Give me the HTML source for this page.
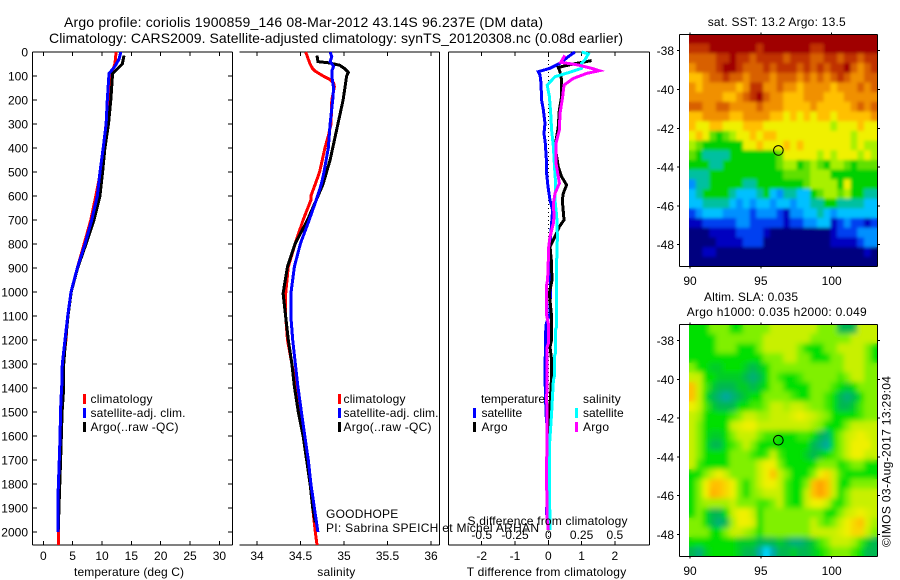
<!DOCTYPE html>
<html lang="en">
<head>
<meta charset="utf-8">
<title>Argo profile</title>
<style>
html,body{margin:0;padding:0;background:#fff}
svg{display:block}
text{font-family:"Liberation Sans",Arial,sans-serif;fill:#000;font-size:12px}
.title{font-size:14px}
.ax{stroke:#000;stroke-width:1;fill:none;shape-rendering:crispEdges}
.series{fill:none;stroke-width:3;stroke-linejoin:miter;stroke-linecap:butt;shape-rendering:crispEdges}
</style>
</head>
<body>
<svg id="chart" xmlns="http://www.w3.org/2000/svg" width="900" height="580" viewBox="0 0 900 580">
<defs>
<clipPath id="clip-map-1"><rect x="689" y="34" width="188.5" height="232.5"/></clipPath>
<clipPath id="clip-map-2"><rect x="689" y="324" width="188.5" height="232.5"/></clipPath>
<filter id="soft" x="-5%" y="-5%" width="110%" height="110%"><feGaussianBlur stdDeviation="2.6"/></filter>
<filter id="soft-light" x="-5%" y="-5%" width="110%" height="110%"><feGaussianBlur stdDeviation="1.5"/></filter>
</defs>
<text class="title" x="64" y="27" textLength="479">Argo profile: coriolis 1900859_146 08-Mar-2012 43.14S 96.237E (DM data)</text>
<text class="title" x="49" y="43" textLength="574">Climatology: CARS2009. Satellite-adjusted climatology: synTS_20120308.nc (0.08d earlier)</text>

<g id="heatmaps"></g>
<g id="axes"></g>
<g id="marks"></g>

<g>
<rect x="83" y="394" width="3" height="10" fill="#f00"/>
<rect x="83" y="408" width="3" height="10" fill="#00f"/>
<rect x="83" y="422" width="3" height="10" fill="#000"/>
<text x="90.5" y="403" textLength="62">climatology</text>
<text x="90.5" y="417" textLength="95">satellite-adj. clim.</text>
<text x="90.5" y="431" textLength="88">Argo(..raw -QC)</text>
</g>
<g>
<rect x="338" y="394" width="3" height="10" fill="#f00"/>
<rect x="338" y="408" width="3" height="10" fill="#00f"/>
<rect x="338" y="422" width="3" height="10" fill="#000"/>
<text x="343.5" y="403" textLength="62">climatology</text>
<text x="343.5" y="417" textLength="95">satellite-adj. clim.</text>
<text x="343.5" y="431" textLength="88">Argo(..raw -QC)</text>
</g>
<g>
<text x="481" y="403" textLength="64">temperature</text>
<text x="583" y="403" textLength="37.7">salinity</text>
<rect x="473" y="408" width="3" height="10" fill="#00f"/>
<rect x="473" y="422" width="3" height="10" fill="#000"/>
<rect x="575" y="408" width="3" height="10" fill="#0ff"/>
<rect x="575" y="422" width="3" height="10" fill="#f0f"/>
<text x="481.5" y="417" textLength="40.7">satellite</text>
<text x="481.5" y="431" textLength="26">Argo</text>
<text x="583" y="417" textLength="40.7">satellite</text>
<text x="583" y="431" textLength="26">Argo</text>
</g>

<text x="326" y="518" textLength="72.3">GOODHOPE</text>
<text x="326" y="532" textLength="213">PI: Sabrina SPEICH et Michel ARHAN</text>
<text x="467.5" y="525" textLength="160">S difference from climatology</text>
<text x="74" y="576" textLength="110">temperature (deg C)</text>
<text x="317.3" y="576" textLength="38">salinity</text>
<text x="466.7" y="576" textLength="159.5">T difference from climatology</text>
<text x="707.7" y="26" textLength="138">sat. SST: 13.2 Argo: 13.5</text>
<text x="704" y="301" textLength="94">Altim. SLA: 0.035</text>
<text x="686.7" y="316" textLength="180">Argo h1000: 0.035 h2000: 0.049</text>
<text transform="translate(890.5 547) rotate(-90)" textLength="171">©IMOS 03-Aug-2017 13:29:04</text>
</svg>

<script>
// ---- profile data (depth in dbar) ----
const climTempDepth = [0,50,100,200,300,400,500,600,700,800,900,1000,1100,1200,1300,1400,1500,1550,1700,1850,2000,2054];
const climTemp = [12.4,12.2,11.5,11.1,10.7,10.2,9.75,8.95,8.1,6.95,5.8,4.72,4.15,3.85,3.4,3.3,3.2,3.1,2.85,2.6,2.56,2.56];
const satTempDepth = [0,30,60,90,200,300,400,500,600,700,800,900,1000,1100,1200,1300,1400,1450,1650,1850,2000];
const satTemp = [13.2,12.9,12.2,11.2,10.9,10.7,10.2,9.66,9.2,8.24,7.1,5.8,4.72,4.15,3.7,3.24,3.13,3.0,2.8,2.5,2.5];
const argoTempDepth = [15,50,90,200,300,400,500,600,700,800,900,1000,1100,1200,1300,1400,1500,1700,1880,1990];
const argoTemp = [13.75,13.46,11.8,11.5,11.1,10.5,10.1,9.65,8.64,7.27,5.85,4.76,4.2,3.8,3.47,3.47,3.2,2.95,2.7,2.55];

const climSalDepth = [0,30,50,70,80,100,115,130,145,200,300,350,400,450,500,550,600,617,700,797,894,1006,1103,1200,1298,1394,1500,1600,1700,1800,1900,2000,2054];
const climSal = [34.56,34.59,34.61,34.64,34.67,34.76,34.84,34.88,34.89,34.86,34.85,34.82,34.78,34.75,34.72,34.67,34.62,34.62,34.53,34.44,34.36,34.33,34.33,34.35,34.4,34.45,34.5,34.53,34.57,34.61,34.64,34.67,34.69];
const satSalDepth = [0,20,40,60,80,100,150,200,300,400,500,550,617,700,797,894,1006,1103,1200,1298,1394,1500,1600,1700,1800,1900,2000];
const satSal = [34.84,34.86,34.84,34.88,34.86,34.86,34.88,34.87,34.84,34.82,34.77,34.74,34.68,34.6,34.5,34.43,34.39,34.39,34.41,34.44,34.47,34.51,34.55,34.59,34.62,34.66,34.7];
const argoSalDepth = [15,40,45,55,70,85,100,150,200,250,300,350,400,450,500,550,617,700,797,894,1006,1103,1200,1298,1394,1500,1600,1700,1800,1900,1960];
const argoSal = [34.69,34.7,34.82,34.95,35.01,35.05,35.03,35.01,34.99,34.96,34.93,34.9,34.87,34.84,34.8,34.76,34.68,34.58,34.44,34.35,34.3,34.33,34.36,34.4,34.43,34.475,34.53,34.57,34.61,34.64,34.67];

const satDiffTDepth = [0,19,47,68,82,96,130,200,240,297,339,380,464,505,561,617,658,714,769,811,867,950,1089,1131,1186,1256,1353,1506,1575,1853,1922,1992];
const satDiffT = [0.8,0.6,0.35,0.05,-0.3,-0.25,-0.22,-0.2,-0.15,-0.1,-0.13,-0.09,-0.05,-0.05,-0.01,0.05,0.13,0.1,0.07,0.03,0.09,0.07,0.05,-0.06,-0.09,-0.09,-0.1,-0.07,-0.03,-0.04,-0.05,0];
const argoDiffTDepth = [36,50,64,82,117,186,242,311,394,478,519,554,589,617,700,728,769,811,867,950,1006,1089,1200,1228,1284,1353,1395,1478,1644,1990];
const argoDiffT = [1.3,0.75,0.3,0.35,0.4,0.4,0.33,0.3,0.2,0.3,0.4,0.55,0.45,0.42,0.47,0.33,0.2,0.05,0.09,0.11,0.03,0.09,0.1,0.05,0.1,0.1,0.08,0.05,0,0];
const satDiffSDepth = [0,8,33,47,68,82,103,138,186,256,325,394,464,547,617,686,769,867,1145,1158,1256,1270,1353,1367,1450,1506,1644,1783,1992];
const satDiffS = [0.25,0.3,0.275,0.25,0.25,0.175,0.05,-0.008,0.008,0.018,0.025,0.038,0.045,0.055,0.05,0.063,0.068,0.063,0.063,0.053,0.053,0.045,0.045,0.038,0.03,0.025,0.008,0.008,0.013];
const argoDiffSDepth = [14,43,54,68,78,89,110,138,186,256,325,380,464,519,547,589,630,686,714,769,825,867,950,978,1089,1131,1214,1228,1353,1450,1506,1644,1700,1783,1950,1992];
const argoDiffS = [0.125,0.093,0.225,0.325,0.383,0.288,0.188,0.118,0.108,0.088,0.083,0.058,0.058,0.075,0.083,0.05,0.038,0.043,0.038,0.013,0,0,-0.005,-0.015,-0.015,0,0,-0.008,-0.008,-0.013,-0.008,-0.008,-0.013,-0.013,-0.008,0];

// ---- tick labels ----
const depthTicks = [0,100,200,300,400,500,600,700,800,900,1000,1100,1200,1300,1400,1500,1600,1700,1800,1900,2000];
const tempTicks = [0,5,10,15,20,25,30];
const salTicks = [34,34.5,35,35.5,36];
const diffTTicks = [-2,-1,0,1,2];
const diffSTicks = [-0.5,-0.25,0,0.25,0.5];
const lonTicks = [90,95,100];
const latTicks = [-38,-40,-42,-44,-46,-48];
const argoLon = 96.237;
const argoLat = -43.14;

// ---- map grids: colour-class value per cell, north to south, west to east ----
const sstGrid = [
[14,14,14,14,14,14,14,14,14,14,14,14,14,14,14,14,14,14,14,14,14,14,14,14,14,14,14,14],
[13,13,13,14,14,14,14,14,14,14,13,14,14,14,14,14,14,14,13,13,14,14,14,14,14,14,14,14],
[12,12,12,12,13,13,14,13,13,12,13,13,13,13,12,13,13,13,12,12,13,13,12,13,13,12,13,13],
[11,12,12,12,13,14,14,13,12,12,12,13,12,13,13,13,12,13,12,13,12,13,13,14,12,11,12,13],
[10,10,11,12,12,13,12,12,11,12,12,12,11,12,12,12,11,12,11,12,11,12,13,12,11,11,12,12],
[11,10,11,11,11,11,11,10,11,13,13,11,11,12,11,11,10,11,11,11,11,10,11,11,11,12,11,12],
[11,11,11,11,11,10,10,11,12,13,14,12,11,11,10,10,10,11,11,11,10,10,10,11,11,11,11,11],
[12,12,11,11,12,12,11,11,11,11,12,11,11,11,10,10,10,10,11,10,10,10,10,10,11,12,11,12],
[10,10,11,11,11,11,10,10,11,11,11,11,10,10,9,10,9,10,9,10,10,9,10,10,10,10,10,11],
[10,9,9,10,10,9,9,9,10,10,10,9,9,9,9,9,9,9,9,9,9,8,9,9,9,10,9,9],
[9,10,9,7,6,7,8,9,9,10,9,10,10,9,9,9,9,9,9,9,9,9,9,9,8,9,9,9],
[8,7,6,6,6,6,6,6,9,9,10,9,9,9,10,9,10,9,9,9,9,9,9,9,8,9,8,8],
[7,6,5,5,5,5,6,6,6,6,6,6,6,7,9,9,9,9,9,8,9,8,9,9,9,8,9,8],
[6,6,6,5,5,6,6,6,6,6,6,6,6,7,8,8,6,7,8,7,6,8,8,7,6,7,7,7],
[5,5,5,6,6,6,6,6,6,6,6,6,6,6,7,7,7,7,8,8,8,6,6,6,6,6,6,6],
[3,5,5,6,6,6,6,6,5,5,6,6,6,6,6,6,6,7,8,8,8,8,6,9,6,6,6,6],
[4,5,6,6,6,6,5,4,4,4,5,6,4,3,5,5,4,4,6,7,8,8,7,8,6,6,5,5],
[4,4,5,5,5,5,4,3,4,3,4,4,3,4,4,3,4,4,5,5,6,6,5,5,5,5,4,4],
[2,3,4,4,4,3,3,3,3,2,3,3,3,2,1,3,3,4,4,5,4,3,4,4,4,4,4,4],
[1,1,2,2,2,2,2,3,3,2,2,2,2,2,1,2,2,3,3,4,4,1,2,3,2,2,1,2],
[0,0,0,1,1,1,1,2,2,2,2,1,0,0,0,0,0,0,0,0,0,1,2,2,2,3,3,3],
[0,0,0,0,1,1,1,1,2,2,2,0,0,0,0,0,0,0,0,0,0,1,1,1,1,2,3,3],
[0,0,1,1,0,0,0,0,0,0,0,0,0,0,0,0,0,0,0,0,0,0,0,0,0,0,1,0],
[0,0,0,0,0,0,0,0,0,0,0,0,0,0,0,0,0,0,0,0,0,0,0,0,0,0,0,0]
];
const slaGrid = [
[3,3,3,4,4,4,3,3,4,4,4,4,5,5,5,5,5,5,5,4,4,4,2,2,2,5,5,5],
[3,3,3,3,4,4,4,4,4,4,4,5,5,5,5,5,5,5,4,4,4,4,4,4,5,5,5,5],
[3,3,3,3,4,4,4,3,3,3,4,5,5,5,5,5,4,3,3,3,4,4,5,5,5,5,4,3],
[3,3,3,3,3,3,3,3,3,3,3,4,4,4,5,5,4,4,3,3,3,4,4,5,5,5,4,3],
[4,3,3,2.5,2.5,3,3,3,2.5,2,2.5,3,4,4,4,4,4,4,4,4,4,4,4,5,5,5,4,4],
[5,5,3,3,2.5,2.5,2.5,2.5,2,1.5,2,3,4,3.5,3,3,3.5,4,4,4,4,4,3.5,4,5,5,4,4],
[7,5,3.5,2.5,2,2,2,2.5,2.5,2,2.5,3,4,4,3,3,3,3,4,4,4,3.5,3,2.5,3,4,4,4],
[7,5,3,2,1.5,1,1.5,2,2.5,3,3,4,4,4,4,3.5,3,3,4,4,3.5,3,2,1.5,2,3,4,4],
[6,5,3.5,2.5,2,2,2,3,3,3.5,3.5,4,5,5,4.5,5,5,4.5,4,4,3.5,3,2,2,2.5,3.5,4,4],
[5,4.5,3,3,3,3,3.5,4,5,5,4.5,4.5,5,5,5,5.5,6,5.5,5,4.5,4,3,3,3,3,3.5,4,4],
[5,4,3,3,3,3,5,5.5,6,6,5,5,5,5,5,5,5,5,4.5,4,3,3,3,4,5,5,5,5],
[5,4,3,2.5,2.5,3,4,5,5,5,4,3.5,3.5,3,3,3,3.5,3.5,3,2,1.5,3,4,5,5.5,6,5.5,5],
[5,4,3,2,2,3,3.5,4,5,4,3,3,3,3,3,3,3,3,2,1.5,1,3,4,5,6,6,6,5],
[5,4,3,3,3,3,4,4,4,3.5,3,3.5,5,3.5,3,3,3,2.5,2,2.5,3,3.5,4,5,6,6,5,5],
[5,3.5,3,3,3,3,4,4,4,4,5,6,6,4,3,3,3,3,3,4,4,4,3,3.5,4,4,3,3],
[3,3,4,5,6,5,4,4,4,4,5,6,7,5,4,3,3,3,4,6,6.5,5,3.5,3,3,3,3,3],
[3,4,6,7,7,6.5,6,4,3,4,5,6,6,5,3.5,3,3,4,7,8,7,5,3,3,4,4,4,4],
[3,4,6,7.5,7,6.5,6,4,3,4,4.5,5,5,5,3.5,3,3,5,7,8,7,5,3,4,5,5,5,5],
[3,4,4.5,4.5,4.5,4.5,5,4,4,4,3.5,3.5,4,5,3.5,3,3,5,6,6,5,3.5,3,4,5,5,5,5],
[3,4,3,2,2,3,5,6,6,5,3,4,4,4,4,4,4,4,4,4,3,3,4,5,5.5,6,5.5,5],
[4,4,3,2,1.5,2,4.5,6,6,5.5,3,4,4,4,4,4,4,4,5,4,3.5,4,5,6,6.5,7,5.5,4.5],
[4,4,4,3,3,4,5,5,4.5,4,3,4,4,4,4,4,4,4,5,5,5,5,5.5,6,6.5,6.5,5,4],
[3,3,3,3,3,3,3,2.5,2.5,2.5,2,2,2,2.5,2,1.5,1.5,2,2.5,3.5,4,5,5,5,4.5,3.5,2.5,2],
[2,1.5,2.5,3,3,3,3,2.5,2,2,1,0,1,2,2,2.5,2,2,2.5,3,3.5,4,4,4,3.5,3,2,2]
];
const sstColors = ['#00007f','#0000c0','#0040f0','#0090ff','#00c0ff','#00c0a0','#00d000','#60e000','#a8f000','#f0f000','#ffc000','#f09000','#d86000','#c03000','#a00000'];
const slaColors = ['#00d8ff','#00a8a0','#00b850','#00e000','#80f000','#c8f000','#f0f000','#ffc000','#ffa000'];

// ---- axis functions ----
const NS = 'http://www.w3.org/2000/svg';
const depthY = d => 52 + d * 0.24;
const tempX = v => 43.3 + v * 5.87;
const salX = v => 257 + (v - 34) * 87;
const diffTX = v => 548.3 + v * 33.3;
const diffSX = v => 548.3 + v * 133.2;
const lonX = v => 690 + (v - 90) * 14.17;
const latY1 = v => 50.7 + (-38 - v) * 19.4;
const latY2 = v => 340.7 + (-38 - v) * 19.36;

function el(tag, parent) {
  const n = document.createElementNS(NS, tag);
  parent.appendChild(n);
  return n;
}
function segment(parent, x1, y1, x2, y2) {
  const n = el('line', parent);
  n.setAttribute('class', 'ax');
  n.setAttribute('x1', x1);
  n.setAttribute('y1', y1);
  n.setAttribute('x2', x2);
  n.setAttribute('y2', y2);
  
  
  return n;
}
function label(parent, x, y, txt, anchor) {
  const n = el('text', parent);
  n.setAttribute('x', x);
  n.setAttribute('y', y);
  n.setAttribute('text-anchor', anchor);
  n.textContent = txt;
  
  
  return n;
}
function profile(parent, depths, values, xFn, color, name) {
  const n = el('polyline', parent);
  n.setAttribute('class', 'series');
  n.setAttribute('stroke', color);
  n.setAttribute('points', depths.map((d, i) => xFn(values[i]).toFixed(1) + ',' + depthY(d).toFixed(1)).join(' '));
  
  
}
function scaleColor(stops, v) {
  const c = Math.max(0, Math.min(stops.length - 1, v));
  const a = Math.floor(c), b = Math.min(stops.length - 1, a + 1), t = c - a;
  const rgb = s => [1, 3, 5].map(i => parseInt(s.substr(i, 2), 16));
  const A = rgb(stops[a]), B = rgb(stops[b]);
  return 'rgb(' + A.map((x, i) => Math.round(x + (B[i] - x) * t)).join(',') + ')';
}
function heatmap(parent, id, grid, stops, clip, top, height) {
  const g = el('g', parent);
  g.setAttribute('id', id);
  g.setAttribute('clip-path', 'url(#' + clip + ')');
  
  
  const left = 689, w = 188.5 / grid[0].length, h = height / grid.length;
  grid.forEach((row, r) => row.forEach((v, c) => {
    const n = el('rect', g);
    n.setAttribute('x', (left + c * w).toFixed(2));
    n.setAttribute('y', (top + r * h).toFixed(2));
    n.setAttribute('width', (w + 0.6).toFixed(2));
    n.setAttribute('height', (h + 0.6).toFixed(2));
    n.setAttribute('fill', scaleColor(stops, v));
    
    
  }));
  return g;
}
function smoothed(parent, sourceId, clip, filterId) {
  const g = el('g', parent);
  g.setAttribute('clip-path', 'url(#' + clip + ')');
  
  
  const u = el('use', g);
  u.setAttribute('href', '#' + sourceId);
  u.setAttribute('filter', 'url(#' + filterId + ')');
  
  
}

// ---- draw maps ----
const mapLayer = document.getElementById('heatmaps');
heatmap(mapLayer, 'sst-map-cells', sstGrid, sstColors, 'clip-map-1', 34, 232.5);
heatmap(mapLayer, 'sla-map-cells', slaGrid, slaColors, 'clip-map-2', 324, 232.5);
smoothed(mapLayer, 'sst-map-cells', 'clip-map-1', 'soft-light');
smoothed(mapLayer, 'sla-map-cells', 'clip-map-2', 'soft');

// ---- draw axes ----
const ax = document.getElementById('axes');
const PT = 52, PB = 545;
// temperature panel
segment(ax, 32.5, PT, 32.5, PB);
segment(ax, 232.5, PT, 232.5, PB);
segment(ax, 32.5, PT, 232.5, PT);
segment(ax, 32.5, PB, 232.5, PB);
depthTicks.forEach(d => {
  segment(ax, 32.5, depthY(d), 37, depthY(d));
  segment(ax, 228, depthY(d), 232.5, depthY(d));
  label(ax, 28, depthY(d) + 4.5, String(d), 'end');
});
tempTicks.forEach(v => {
  segment(ax, tempX(v), PT, tempX(v), PT + 4);
  segment(ax, tempX(v), PB - 4, tempX(v), PB);
  label(ax, tempX(v), 560, String(v), 'middle');
});
// salinity panel
segment(ax, 439.5, PT, 439.5, PB);
segment(ax, 239.5, PT, 439.5, PT);
segment(ax, 239.5, PB, 439.5, PB);
salTicks.forEach(v => {
  segment(ax, salX(v), PT, salX(v), PT + 4);
  segment(ax, salX(v), PB - 4, salX(v), PB);
  label(ax, salX(v), 560, String(v), 'middle');
});
// difference panel
segment(ax, 448.5, PT, 448.5, PB);
segment(ax, 649.5, PT, 649.5, PB);
segment(ax, 448.5, PT, 649.5, PT);
segment(ax, 448.5, PB, 649.5, PB);
diffTTicks.forEach(v => {
  segment(ax, diffTX(v), PT, diffTX(v), PT + 4);
  segment(ax, diffTX(v), PB - 4, diffTX(v), PB);
  label(ax, diffTX(v), 560, String(v), 'middle');
});
diffSTicks.forEach(v => {
  label(ax, diffSX(v), 539, String(v), 'middle');
});
const zeroLine = segment(ax, diffTX(0), PT, diffTX(0), PB);
zeroLine.setAttribute('stroke-dasharray', '1 3');

// map frames
[[34.5, 266.5, latY1, 285], [324.5, 556.5, latY2, 575]].forEach(([top, bottom, yFn, labelY]) => {
  segment(ax, 679.5, top, 877.5, top);
  segment(ax, 679.5, bottom, 877.5, bottom);
  segment(ax, 679.5, top, 679.5, bottom);
  segment(ax, 877.5, top, 877.5, bottom);
  latTicks.forEach(v => {
    segment(ax, 677, yFn(v), 679.5, yFn(v));
    segment(ax, 877.5, yFn(v), 880, yFn(v));
    label(ax, 674, yFn(v) + 4.5, String(v), 'end');
  });
  lonTicks.forEach(v => {
    segment(ax, lonX(v), top - 2, lonX(v), top);
    segment(ax, lonX(v), bottom, lonX(v), bottom + 2);
    label(ax, lonX(v), labelY, String(v), 'middle');
  });
});

// ---- draw profiles ----
const marks = document.getElementById('marks');
profile(marks, climTempDepth, climTemp, tempX, '#f00', 'temperature-climatology-line');
profile(marks, argoTempDepth, argoTemp, tempX, '#000', 'temperature-argo-line');
profile(marks, satTempDepth, satTemp, tempX, '#00f', 'temperature-satellite-line');
profile(marks, climSalDepth, climSal, salX, '#f00', 'salinity-climatology-line');
profile(marks, argoSalDepth, argoSal, salX, '#000', 'salinity-argo-line');
profile(marks, satSalDepth, satSal, salX, '#00f', 'salinity-satellite-line');
profile(marks, satDiffTDepth, satDiffT, diffTX, '#00f', 'temperature-difference-satellite-line');
profile(marks, argoDiffTDepth, argoDiffT, diffTX, '#000', 'temperature-difference-argo-line');
profile(marks, satDiffSDepth, satDiffS, diffSX, '#0ff', 'salinity-difference-satellite-line');
profile(marks, argoDiffSDepth, argoDiffS, diffSX, '#f0f', 'salinity-difference-argo-line');

// ---- float position markers ----
[[latY1, 'sst-map-argo-position'], [latY2, 'sla-map-argo-position']].forEach(([yFn, name]) => {
  const c = el('circle', marks);
  c.setAttribute('cx', lonX(argoLon));
  c.setAttribute('cy', yFn(argoLat));
  c.setAttribute('r', 4.8);
  c.setAttribute('fill', 'none');
  c.setAttribute('stroke', '#000');
  
  
});
</script>
</body>
</html>
